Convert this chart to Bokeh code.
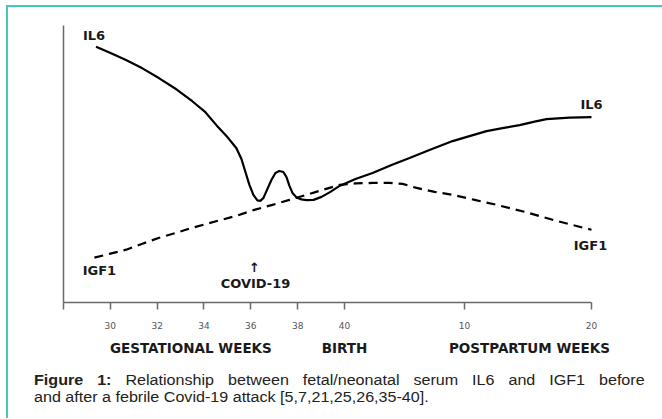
from bokeh.plotting import figure
from bokeh.models import (FixedTicker, LinearAxis, Label, Div)
from bokeh.layouts import column
from bokeh.embed import file_html
from bokeh.resources import INLINE

# ---- data (timeline position in gestational-week units; postpartum weeks mapped onto the same axis) ----
tick_pos = [28, 30, 32, 34, 36, 38, 40, 45.13, 50.55]
tick_labels = ["", "30", "32", "34", "36", "38", "40", "10", "20"]

group_pos = [33.44, 40, 47.9]
group_labels = ["GESTATIONAL WEEKS", "BIRTH", "POSTPARTUM WEEKS"]

covid_week = 36.2

il6_x = [29.39, 29.96, 30.67, 31.37, 32.09, 32.82, 33.50, 34.06, 34.53, 35.00,
         35.38, 35.60, 35.77, 35.94, 36.11, 36.28, 36.41, 36.54, 36.71, 36.88,
         37.05, 37.22, 37.39, 37.52, 37.65, 37.78, 37.95, 38.16, 38.38, 38.68,
         39.02, 39.40, 39.79, 40.47, 41.20, 42.01, 42.78, 43.63, 44.62, 45.34,
         46.07, 46.75, 47.48, 48.12, 48.63, 49.62, 50.55]
il6_y = [256.7, 251, 243.3, 235, 225, 214, 202, 191, 178, 166,
         155, 144, 131, 118, 108, 102.5, 102, 105, 114, 123,
         130, 132, 131, 126, 117, 110, 105.5, 103.5, 102.7, 103,
         106, 111, 117, 124, 130, 138, 145, 153, 162, 167,
         172, 175, 178, 181.5, 184, 185.5, 186]

igf1_x = [29.32, 30.00, 30.68, 31.37, 32.09, 32.82, 33.50, 34.44, 35.38, 36.15,
          36.92, 37.65, 38.38, 39.06, 39.79, 40.47, 41.20, 41.92, 42.48, 43.08,
          43.85, 44.62, 45.56, 46.50, 47.69, 48.89, 49.70, 50.55]
igf1_y = [45, 49, 53, 59, 65, 70, 75, 81, 87, 93,
          98, 103, 108, 113, 118, 119.5, 120, 120, 119, 115,
          111, 108, 103, 98, 91, 83, 78, 73]

caption_bold = "Figure 1:"
caption_line1 = "Relationship between fetal/neonatal serum IL6 and IGF1 before"
caption_line2 = "and after a febrile Covid-19 attack [5,7,21,25,26,35-40]."

# ---- figure ----
p = figure(width=645, height=351, x_range=(28, 51.96), y_range=(0, 278),
           output_backend="svg", toolbar_location=None,
           min_border_left=55, min_border_right=29, min_border_top=18,
           min_border_bottom=55)
p.outline_line_color = None
p.xgrid.visible = False
p.ygrid.visible = False
p.background_fill_color = "white"
p.border_fill_color = "white"

axis_col = "#6a6a6a"
xa = p.xaxis[0]
xa.ticker = FixedTicker(ticks=tick_pos)
xa.bounds = (tick_pos[0], tick_pos[-1])
xa.major_label_overrides = {t: l for t, l in zip(tick_pos, tick_labels)}
xa.axis_line_color = axis_col
xa.axis_line_width = 1.5
xa.major_tick_line_color = axis_col
xa.major_tick_line_width = 1.5
xa.major_tick_in = 0
xa.major_tick_out = 7
xa.minor_tick_line_color = None
xa.major_label_standoff = 12
xa.major_label_text_font = "DejaVu Sans"
xa.major_label_text_font_size = "9px"
xa.major_label_text_color = "#555555"

ya = p.yaxis[0]
ya.axis_line_color = axis_col
ya.axis_line_width = 1.5
ya.major_tick_line_color = None
ya.minor_tick_line_color = None
ya.major_label_text_font_size = "0px"
ya.major_label_text_color = None

gx = LinearAxis(ticker=FixedTicker(ticks=group_pos),
                major_label_overrides={t: l for t, l in zip(group_pos, group_labels)},
                axis_line_color=None, major_tick_line_color=None,
                minor_tick_line_color=None, major_label_standoff=2,
                major_label_text_font="DejaVu Sans",
                major_label_text_font_style="bold",
                major_label_text_font_size="13.5px",
                major_label_text_color="#1a1a1a")
p.add_layout(gx, "below")

p.line(il6_x, il6_y, line_color="black", line_width=2.2)
p.line(igf1_x, igf1_y, line_color="black", line_width=2.2, line_dash="9 6")

lab = dict(text_font="DejaVu Sans", text_font_style="bold", text_font_size="13px",
           text_color="#1a1a1a", text_align="center", text_baseline="middle")
p.add_layout(Label(x=il6_x[0], y=il6_y[0], x_offset=-2, y_offset=11, text="IL6", **lab))
p.add_layout(Label(x=il6_x[-1], y=il6_y[-1], x_offset=0, y_offset=13, text="IL6", **lab))
p.add_layout(Label(x=igf1_x[0], y=igf1_y[0], x_offset=5, y_offset=-13, text="IGF1", **lab))
p.add_layout(Label(x=igf1_x[-1], y=igf1_y[-1], x_offset=-1, y_offset=-16, text="IGF1", **lab))
p.add_layout(Label(x=covid_week, y=19, text="COVID-19", **lab))
p.add_layout(Label(x=covid_week, y=35, x_offset=-1, text="\u2191",
                   text_font="DejaVu Sans", text_font_style="bold",
                   text_font_size="13px", text_color="#1a1a1a",
                   text_align="center", text_baseline="middle"))

cap_html = (
    '<div style="font-family: Arial, \'Liberation Sans\', sans-serif; font-size: 14px; '
    'color: #222; line-height: 17px; margin: 9px 0 0 21px; width: 531px; '
    'transform: scaleX(1.15); transform-origin: 0 0;">'
    '<div style="text-align: justify; text-align-last: justify;">'
    f'<b>{caption_bold}</b> {caption_line1}</div>'
    f'<div>{caption_line2}</div></div>'
)
cap = Div(text=cap_html, width=645, height=50)

layout = column(p, cap, styles={"border-top": "2px solid #46c9b5",
                                "border-left": "2px solid #46c9b5",
                                "background-color": "white",
                                "margin-left": "6px", "margin-top": "5px"})

open("out.html", "w").write(file_html(layout, INLINE))
